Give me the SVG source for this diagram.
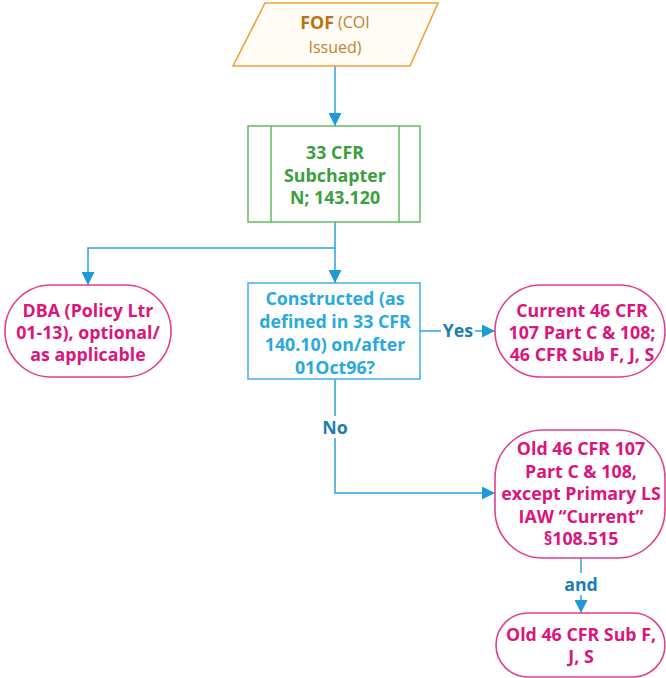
<svg xmlns="http://www.w3.org/2000/svg" width="666" height="678" viewBox="0 0 666 678">
<style>
text{font-family:"Open Sans","Noto Sans","DejaVu Sans",sans-serif;font-size:17.8px;font-weight:700;text-anchor:middle;dominant-baseline:central}
text.light,tspan.light{font-weight:400;font-size:16px;fill:#C0822E}
.pill{fill:#fff;stroke:#E2408C;stroke-width:1.6}
.pt{fill:#DA157C}
.ct{fill:#2AA9E0}
.gt{fill:#3C9E3C}
.lbl{fill:#1F7DB4}
.conn{fill:none;stroke:#2BA3DC;stroke-width:1.5}
</style>
<defs>
<marker id="ah" viewBox="0 0 12 12" refX="12" refY="6" markerWidth="13" markerHeight="13" markerUnits="userSpaceOnUse" orient="auto">
<path d="M0,0 L12,6 L0,12 Z" fill="#1E9AD6"/>
</marker>
</defs>
<g id="connectors">
<path class="conn" d="M335,66 V126" marker-end="url(#ah)"/>
<path class="conn" d="M335,222 V248 H88 V285" marker-end="url(#ah)"/>
<path class="conn" d="M335,248 V283" marker-end="url(#ah)"/>
<path class="conn" d="M420,331 H495" marker-end="url(#ah)"/>
<path class="conn" d="M335,379 V493 H495" marker-end="url(#ah)"/>
<path class="conn" d="M581,558 V613" marker-end="url(#ah)"/>
<rect x="441" y="320" width="34" height="22" fill="#fff"/>
<text class="lbl" x="458" y="330">Yes</text>
<rect x="320" y="416" width="30" height="22" fill="#fff"/>
<text class="lbl" x="335" y="427">No</text>
<rect x="563" y="573" width="36" height="22" fill="#fff"/>
<text class="lbl" x="581" y="584">and</text>
</g>
<g id="fof">
<path d="M265,3 H438 L410,66 H233 Z" fill="#FFFCF6" stroke="#F4A235" stroke-width="1.6"/>
<text x="335" y="22"><tspan fill="#B8720E">FOF</tspan><tspan class="light"> (COI</tspan></text>
<text class="light" x="335" y="47">Issued)</text>
</g>
<g id="subchapter">
<rect x="248" y="126" width="172" height="96" fill="#fff" stroke="#6CBF6C" stroke-width="1.6"/>
<line x1="271" y1="126" x2="271" y2="222" stroke="#6CBF6C" stroke-width="1.6"/>
<line x1="399" y1="126" x2="399" y2="222" stroke="#6CBF6C" stroke-width="1.6"/>
<text class="gt" x="335" y="152">33 CFR</text>
<text class="gt" x="335" y="174.5">Subchapter</text>
<text class="gt" x="335" y="197">N; 143.120</text>
</g>
<g id="dba">
<rect class="pill" x="5" y="285" width="166" height="92" rx="46" ry="46"/>
<text class="pt" x="88" y="310">DBA (Policy Ltr</text>
<text class="pt" x="88" y="332">01-13), optional/</text>
<text class="pt" x="88" y="354">as applicable</text>
</g>
<g id="constructed">
<rect x="248" y="283" width="172" height="96" fill="#fff" stroke="#4DB6E6" stroke-width="1.6"/>
<text class="ct" x="335" y="298">Constructed (as</text>
<text class="ct" x="335" y="321">defined in 33 CFR</text>
<text class="ct" x="335" y="344">140.10) on/after</text>
<text class="ct" x="335" y="367">01Oct96?</text>
</g>
<g id="current">
<rect class="pill" x="495" y="285" width="170" height="92" rx="46" ry="46"/>
<text class="pt" x="582" y="310">Current 46 CFR</text>
<text class="pt" x="582" y="332">107 Part C &amp; 108;</text>
<text class="pt" x="582" y="354">46 CFR Sub F, J, S</text>
</g>
<g id="old107">
<rect class="pill" x="495" y="430" width="170" height="128" rx="48" ry="48"/>
<text class="pt" x="581" y="448">Old 46 CFR 107</text>
<text class="pt" x="581" y="470.5">Part C &amp; 108,</text>
<text class="pt" x="581" y="493">except Primary LS</text>
<text class="pt" x="581" y="515.5">IAW “Current”</text>
<text class="pt" x="581" y="538">§108.515</text>
</g>
<g id="oldsubf">
<rect class="pill" x="496" y="613" width="169" height="64" rx="32" ry="32"/>
<text class="pt" x="581" y="634">Old 46 CFR Sub F,</text>
<text class="pt" x="581" y="656">J, S</text>
</g>
</svg>
